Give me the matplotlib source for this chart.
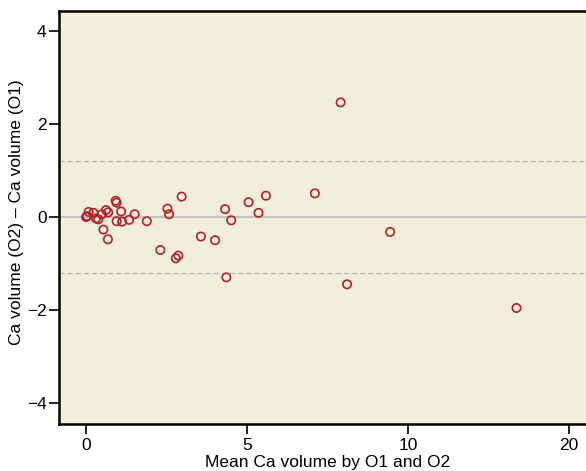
import numpy as np
import matplotlib
matplotlib.use("Agg")
import matplotlib.pyplot as plt

# Bland-Altman style data: mean of O1/O2 vs difference (O2 - O1)
mean_vol = [0.00, 0.03, 0.08, 0.23, 0.31, 0.38, 0.49, 0.62, 0.69, 0.54,
            0.68, 0.92, 0.95, 1.09, 0.95, 1.12, 1.34, 1.51, 1.89, 2.53,
            2.58, 2.97, 2.31, 2.79, 2.87, 3.57, 4.01, 4.32, 4.51, 5.05,
            5.36, 5.59, 4.36, 7.11, 7.91, 8.11, 9.45, 16.75]
diff_vol = [0.00, 0.02, 0.11, 0.09, -0.03, -0.05, 0.06, 0.15, 0.10, -0.27,
            -0.48, 0.35, 0.31, 0.12, -0.09, -0.10, -0.06, 0.06, -0.09, 0.18,
            0.06, 0.44, -0.71, -0.89, -0.83, -0.42, -0.50, 0.17, -0.07, 0.32,
            0.09, 0.46, -1.30, 0.51, 2.47, -1.45, -0.32, -1.96]
bias = 0.0
loa_upper = 1.2
loa_lower = -1.2

x_ticks = [0, 5, 10, 20]
y_ticks = [-4, -2, 0, 2, 4]


# x axis is compressed above 10 (half the spacing per unit)
def fwd(x):
    x = np.asarray(x, dtype=float)
    return np.where(x <= 10, x, 10 + (x - 10) / 2.0)


def inv(y):
    y = np.asarray(y, dtype=float)
    return np.where(y <= 10, y, 10 + (y - 10) * 2.0)


plt.rcParams['font.family'] = ['Liberation Sans', 'DejaVu Sans']

W, H = 586, 471
fig = plt.figure(figsize=(W / 100, H / 100), dpi=100)
ax = fig.add_axes([59 / W, 1 - 424 / H, 1 - 59 / W, (424 - 11) / H])
ax.set_facecolor('#F2EEDC')

ax.set_xscale('function', functions=(fwd, inv))

ax.axhline(bias, color='#C3C3C3', lw=1.6, zorder=1)
ax.axhline(loa_upper, color='#B4B4B4', lw=0.9, ls=(0, (4, 2.5)), zorder=1)
ax.axhline(loa_lower, color='#B4B4B4', lw=0.9, ls=(0, (4, 2.5)), zorder=1)

ax.scatter(mean_vol, diff_vol, s=36, facecolors='none', edgecolors='#B52025',
           linewidths=1.2, zorder=3)

ax.set_xlim(-0.84, 21.07)
ax.set_ylim(-4.46, 4.44)
ax.set_xticks(x_ticks)
ax.set_xticklabels([str(t) for t in x_ticks])
ax.set_yticks(y_ticks)
ax.set_yticklabels([f'\u2212{abs(t)}' if t < 0 else str(t) for t in y_ticks])
ax.minorticks_off()

for side in ['left', 'top', 'bottom']:
    ax.spines[side].set_linewidth(1.8)
    ax.spines[side].set_color('black')
ax.spines['right'].set_visible(False)

ax.tick_params(axis='both', direction='out', length=7, width=1.2, labelsize=12.5,
               colors='black')
ax.tick_params(axis='x', pad=3)
ax.tick_params(axis='y', pad=2)

ax.set_xlabel('Mean Ca volume by O1 and O2', fontsize=12.5, va='center')
ax.xaxis.set_label_coords((328 - 59) / (W - 59), -(462 - 424) / (424 - 11))
ax.set_ylabel('Ca volume (O2) \u2013 Ca volume (O1)', fontsize=12.5, va='center')
ax.yaxis.set_label_coords(-(59 - 17) / (W - 59), (424 - 212) / (424 - 11))

fig.savefig('out.png', dpi=100)
